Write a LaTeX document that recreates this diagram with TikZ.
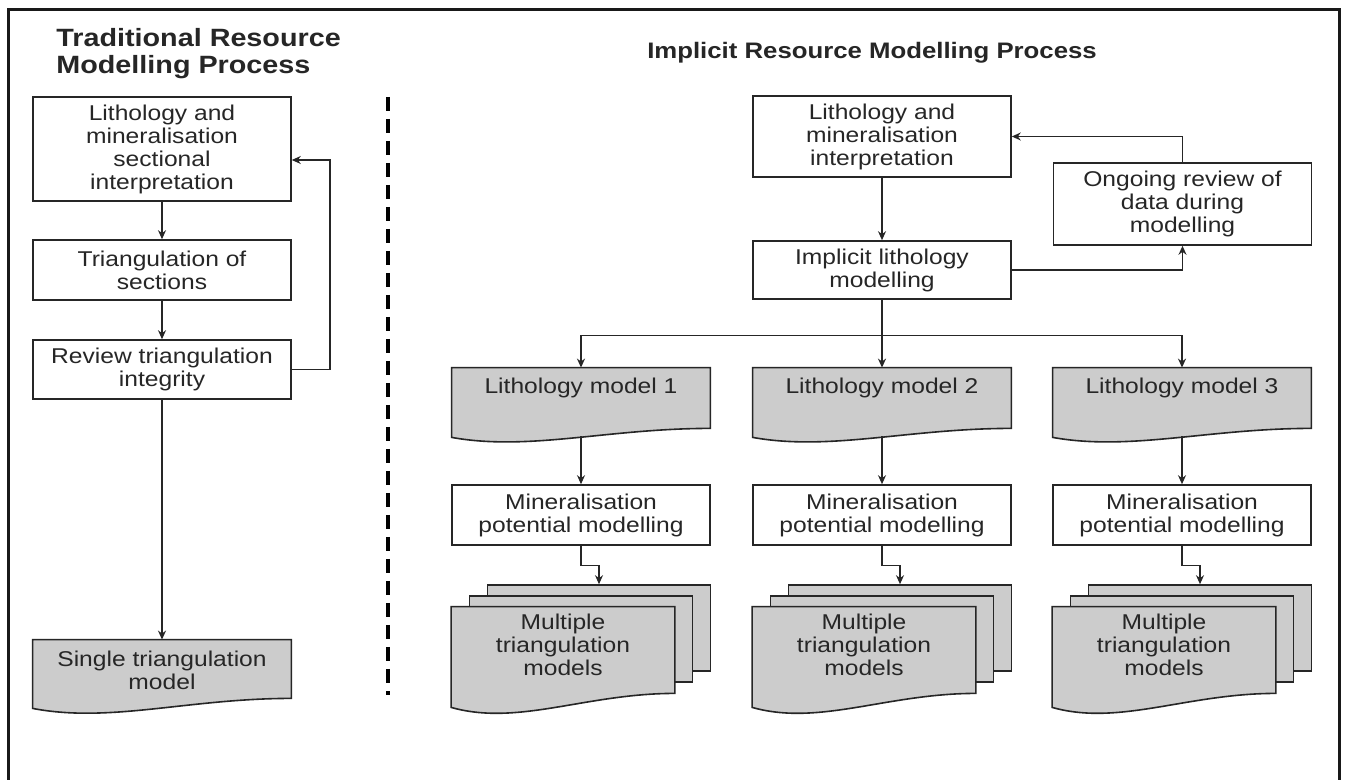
\documentclass[tikz,border=0pt]{standalone}
\usepackage{fontspec}
\setmainfont{Liberation Sans}[FakeStretch=1.15]
\usetikzlibrary{arrows.meta,calc}
\newcommand\docout[3]{%
  \path[docpath] (#1.north west) -- (#1.north east) -- (#1.south east)
    .. controls +(-0.4*#3,0) and +(0.3*#3,#2+5) .. ($(#1.south west)+(0,#2)$) -- cycle;}
\begin{document}
\begin{tikzpicture}[x=0.5pt,y=-0.5pt,
  every node/.style={font=\fontsize{10.7}{11.5}\selectfont, text=black!85, align=center},
  box/.style={draw=black!85, line width=0.8pt, fill=white, minimum width=129pt, inner sep=0pt},
  docnode/.style={minimum width=129pt, inner sep=0pt},
  sheet/.style={draw=black!85, line width=0.8pt, fill=black!20, minimum width=111.5pt, minimum height=43pt, inner sep=0pt},
  conn/.style={draw=black!85, line width=0.7pt},
  arr/.style={conn, -{Stealth[length=4.5pt,width=4pt]}},
  docpath/.style={draw=black!85, line width=0.8pt, fill=black!20},
]
\useasboundingbox (0,0) rectangle (1345,780);
\fill[white] (0,0) rectangle (1345,780);
\draw[line width=1.5pt, black!90] (8.5,780) -- (8.5,9.5) -- (1339.5,9.5) -- (1339.5,780);

% titles
\node[anchor=west, align=left, inner sep=0pt, font=\fontsize{12.5}{13.5}\selectfont\bfseries] (t1) at (56,54) {Traditional Resource\\Modelling Process};
\node[inner sep=0pt, font=\fontsize{11.2}{13}\selectfont\bfseries] (t2) at (872,53) {Implicit Resource Modelling Process};

% left column
\node[box, minimum height=52pt] (A1) at (162,149) {Lithology and\\mineralisation\\sectional\\interpretation};
\node[box, minimum height=30pt] (A2) at (162,270) {Triangulation of\\sections};
\node[box, minimum height=29.5pt] (A3) at (162,369.5) {Review triangulation\\integrity};
\node[docnode, minimum height=29pt] (A4) at (162,669) {};
\docout{A4}{10}{258}
\node (A4t) at (162,670) {Single triangulation\\model};

\draw[arr] (A1.south) -- (A2.north);
\draw[arr] (A2.south) -- (A3.north);
\draw[arr] (A3.south) -- (A4.north);
\draw[arr] (A3.east) -- ++(38,0) |- ($(A1.east)+(0,11)$);

% separator
\draw[line width=2pt, black, dash pattern=on 7pt off 4pt] (388,97) -- (388,695);

% right part
\node[box, minimum height=40.5pt] (B1) at (882,136.5) {Lithology and\\mineralisation\\interpretation};
\node[box, minimum height=29pt] (B2) at (882,270) {Implicit lithology\\modelling};
\node[box, minimum height=41pt] (O) at (1182.5,204) {Ongoing review of\\data during\\modelling};

\draw[arr] (B1.south) -- (B2.north);
\draw[arr] (B2.east) -| (O.south);
\draw[arr] (O.north) |- (B1.east);

\foreach \c/\n in {581/1, 882/2, 1182/3} {
  \node[docnode, minimum height=30pt] (L\n) at (\c,398) {};
  \docout{L\n}{9}{258}
  \node (LT\n) at (\c,388) {Lithology model \n};
  \node[box, minimum height=30pt] (M\n) at (\c,515) {Mineralisation\\potential modelling};
  \node[sheet] (K\n) at (\c+18,628) {};
  \node[sheet] (S\n) at (\c,639) {};
  \node[docnode, minimum width=111.5pt, minimum height=43pt] (F\n) at (\c-18,650) {};
  \docout{F\n}{14}{223}
  \node (FT\n) at (\c-18,645) {Multiple\\triangulation\\models};
  \draw[arr] ($(L\n.south)+(0,8)$) -- (M\n.north);
  \draw[arr] (M\n.south) -- ++(0,20) -| (K\n.north);
}

\draw[conn] (B2.south) -- ++(0,36) coordinate (Jn);
\draw[arr] (Jn) -| (L1.north);
\draw[arr] (Jn) -| (L3.north);
\draw[arr] (Jn) -- (L2.north);
\end{tikzpicture}
\end{document}
